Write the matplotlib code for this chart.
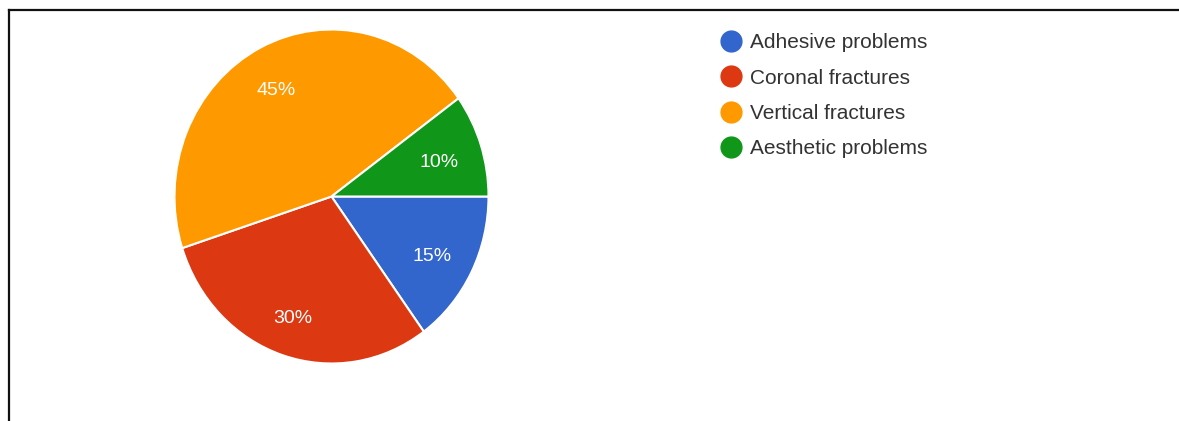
import matplotlib.pyplot as plt
from matplotlib.lines import Line2D
from matplotlib.transforms import ScaledTranslation

# Failure types and their share (%)
labels = ["Adhesive problems", "Coronal fractures", "Vertical fractures", "Aesthetic problems"]
shares = [15, 30, 45, 10]
colors = ["#3366CC", "#DC3912", "#FF9900", "#109618"]

W, H, DPI = 1179, 421, 100
fig = plt.figure(figsize=(W / DPI, H / DPI), dpi=DPI)
fig.patch.set_facecolor("white")


def px_box(left, top, width, height):
    """Figure-fraction rect from pixel coords measured from the top-left."""
    return [left / W, (H - top - height) / H, width / W, height / H]


# pie axes, slightly taller than wide
ax = fig.add_axes(px_box(174.5, 29.5, 314, 334))
wedges, _, autotexts = ax.pie(
    shares, colors=colors, startangle=0, counterclock=False,
    autopct="%d%%", pctdistance=0.74,
    wedgeprops=dict(edgecolor="white", linewidth=1.5),
    textprops=dict(color="white", fontsize=14, family="Liberation Sans"),
)
ax.set_aspect("auto")
ax.set_xlim(-1, 1)
ax.set_ylim(-1, 1)

# nudge the percentage labels a little left/down
nudge = ScaledTranslation(-3 / DPI, -2 / DPI, fig.dpi_scale_trans)
for t in autotexts:
    t.set_verticalalignment("center_baseline")
    t.set_transform(t.get_transform() + nudge)

# legend on the right
handles = [Line2D([], [], marker="o", linestyle="none", markersize=15,
                  markerfacecolor=c, markeredgecolor=c) for c in colors]
fig.legend(handles, labels, loc="upper left",
           bbox_to_anchor=(710 / W, 1 - 25 / H), frameon=False,
           prop=dict(family="Liberation Sans", size=15),
           labelcolor="#333333", handlelength=1.2, handletextpad=0.31,
           labelspacing=0.78, borderaxespad=0)

# frame edges (top and left)
fig.add_artist(Line2D([8.5 / W, 8.5 / W], [0, 1 - 9.5 / H],
                      transform=fig.transFigure, color="#111111", linewidth=1.6))
fig.add_artist(Line2D([8.5 / W, 1], [1 - 9.5 / H, 1 - 9.5 / H],
                      transform=fig.transFigure, color="#111111", linewidth=1.6))

fig.savefig("out.png", dpi=DPI, facecolor=fig.get_facecolor())
plt.close(fig)
